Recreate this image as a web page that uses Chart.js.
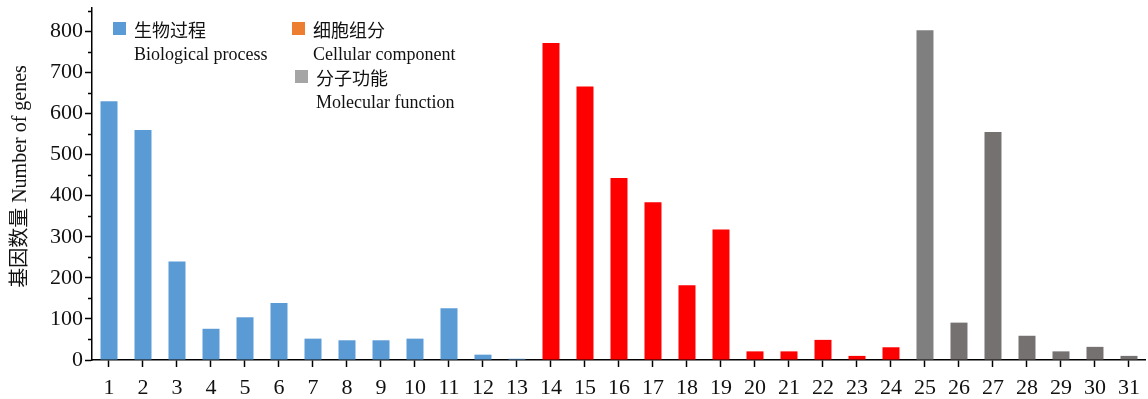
<!DOCTYPE html>
<html>
<head>
<meta charset="utf-8">
<script src="https://cdn.jsdelivr.net/npm/chart.js@4"></script>
<style>
  body { margin: 0; background: #fff; }
</style>
</head>
<body>
<canvas id="goChart" width="1148" height="399"></canvas>
<script>
// GO term numbers along the x axis
const categories = ['1','2','3','4','5','6','7','8','9','10','11','12','13','14','15','16',
  '17','18','19','20','21','22','23','24','25','26','27','28','29','30','31'];

// gene counts per GO class (terms 1-13, 14-24, 25-31)
const biologicalProcess = [630, 560, 240, 76, 104, 139, 52, 48, 48, 52, 126, 13, 3];
const cellularComponent = [772, 666, 443, 384, 182, 318, 21, 21, 49, 10, 31];
const molecularFunction = [803, 91, 555, 59, 21, 32, 10];

const yTicks = [0, 100, 200, 300, 400, 500, 600, 700, 800];
const yMax = 857;

const serif = "'Liberation Serif', 'Noto Sans CJK SC', serif";

const counts = [...biologicalProcess, ...cellularComponent, ...molecularFunction];
const barColors = [
  ...biologicalProcess.map(() => '#5b9bd5'),
  ...cellularComponent.map(() => '#ff0000'),
  ...molecularFunction.map((v, i) => i === 0 ? '#7f7f7f' : '#767171'),
];

// short ticks halfway between the labelled ones
const minorTicks = {
  id: 'minorTicks',
  afterDraw(chart) {
    const { ctx, scales: { y } } = chart;
    ctx.save();
    ctx.strokeStyle = '#000';
    ctx.lineWidth = 1.5;
    for (let v = 50; v <= 850; v += 100) {
      const py = Math.round(y.getPixelForValue(v)) + 0.5;
      ctx.beginPath();
      ctx.moveTo(y.right - 4, py);
      ctx.lineTo(y.right, py);
      ctx.stroke();
    }
    ctx.restore();
  }
};

// two-line legend: Chinese name above, English name below
const legendItems = [
  { color: '#5b9bd5', zh: '生物过程', en: 'Biological process', x: 113, y: 22 },
  { color: '#ed7d31', zh: '细胞组分', en: 'Cellular component', x: 292, y: 22 },
  { color: '#a5a5a5', zh: '分子功能', en: 'Molecular function', x: 295, y: 70 },
];

const twoLineLegend = {
  id: 'twoLineLegend',
  afterDraw(chart) {
    const ctx = chart.ctx;
    ctx.save();
    ctx.textBaseline = 'middle';
    legendItems.forEach((it) => {
      ctx.fillStyle = it.color;
      ctx.fillRect(it.x, it.y, 13, 13);
      ctx.fillStyle = '#111';
      ctx.font = "18px 'Noto Sans CJK SC'";
      ctx.fillText(it.zh, it.x + 21, it.y + 8);
      ctx.font = "18px 'Liberation Serif'";
      ctx.fillText(it.en, it.x + 21, it.y + 33);
    });
    ctx.restore();
  }
};

const ctx = document.getElementById('goChart').getContext('2d');
const goChart = new Chart(ctx, {
  type: 'bar',
  data: {
    labels: categories,
    datasets: [{
      label: 'Number of genes',
      data: counts,
      backgroundColor: barColors,
      categoryPercentage: 1,
      barPercentage: 0.5,
    }],
  },
  options: {
    responsive: false,
    animation: false,
    layout: { padding: { top: 8, right: 1, left: 0, bottom: 0 } },
    plugins: {
      legend: { display: false },
      tooltip: { enabled: false },
    },
    scales: {
      x: {
        offset: true,
        afterFit(axis) { axis.height = 39; },
        grid: {
          offset: false,
          drawOnChartArea: false,
          tickLength: 7,
          tickWidth: 1.5,
          tickColor: '#000',
        },
        border: { color: '#000', width: 1.5 },
        ticks: {
          color: '#111',
          font: { family: serif, size: 22 },
          padding: 8,
          maxRotation: 0,
          autoSkip: false,
        },
      },
      y: {
        min: 0,
        max: yMax,
        afterBuildTicks(axis) {
          axis.ticks = [...yTicks, yMax].map((v) => ({ value: v }));
        },
        afterFit(axis) { axis.width = 92; },
        grid: {
          drawOnChartArea: false,
          tickLength: 7,
          tickWidth: 1.5,
          tickColor: (c) => (c.tick && c.tick.value === yMax ? 'rgba(0,0,0,0)' : '#000'),
        },
        border: { color: '#000', width: 1.5 },
        ticks: {
          color: '#111',
          font: (c) => ({ family: serif, size: c.tick && c.tick.value === yMax ? 1 : 22 }),
          padding: 2,
          callback: (v) => (yTicks.includes(v) ? v : ''),
        },
        title: {
          display: true,
          text: '   基因数量 Number of genes',
          color: '#111',
          font: { family: serif, size: 20 },
          padding: { top: 9, bottom: 0 },
        },
      },
    },
  },
  plugins: [minorTicks, twoLineLegend],
});
</script>
</body>
</html>
